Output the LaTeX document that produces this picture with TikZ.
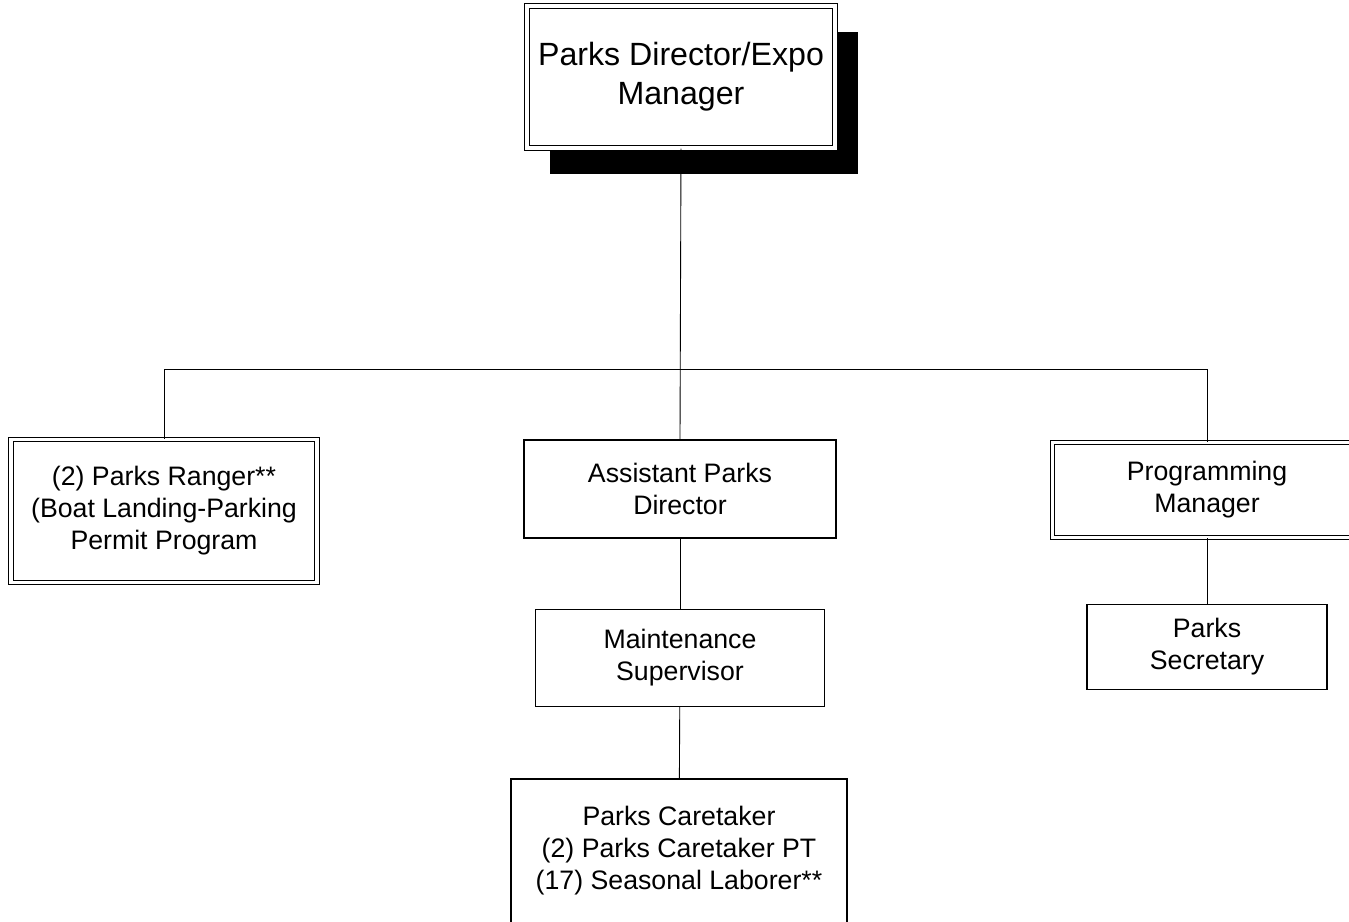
\documentclass[tikz,border=0pt]{standalone}
\usepackage{fontspec}
\setmainfont{Liberation Sans}
\usetikzlibrary{shadows}

\tikzset{
	post/.style={draw, line width=0.8pt, align=center, inner sep=0pt,
		font=\fontsize{15.2}{18.2}\selectfont},
	keypost/.style={post, double, line width=0.7pt, double distance=1.8pt},
	chief/.style={keypost, font=\fontsize{18.3}{22.2}\selectfont, fill=white,
		drop shadow={shadow xshift=0.46cm, shadow yshift=-0.52cm, fill=black, opacity=1}},
	link/.style={line width=0.5pt}
}

\begin{document}
\begin{tikzpicture}[x=0.02cm, y=-0.02cm]
	\useasboundingbox (0,0) rectangle (1349,921);

	\node[chief, minimum width=6.16cm, minimum height=2.84cm] (director) at (681,77) {Parks Director/Expo\\Manager};

	\node[keypost, minimum width=6.12cm, minimum height=2.86cm] (ranger) at (164,511) {(2) Parks Ranger**\\(Boat Landing-Parking\\Permit Program};
	\node[post, minimum width=6.24cm, minimum height=1.96cm] (assistant) at (680,489) {Assistant Parks\\Director};
	\node[keypost, minimum width=6.18cm, minimum height=1.9cm] (programming) at (1207,490) {Programming\\Manager};

	\node[post, minimum width=5.78cm, minimum height=1.94cm] (maintenance) at (680,658) {Maintenance\\Supervisor};
	\node[post, minimum width=4.8cm, minimum height=1.7cm] (secretary) at (1207,647) {Parks\\Secretary};
	\node[post, minimum width=6.72cm, minimum height=2.88cm] (caretaker) at (679,851) {Parks Caretaker\\(2) Parks Caretaker PT\\(17) Seasonal Laborer**};

	\coordinate (bar) at (680,369);

	\draw[link] (director.south) -- (assistant.north);
	\draw[link] (ranger.north) |- (bar) -| (programming.north);
	\draw[link] (assistant) -- (maintenance);
	\draw[link] (maintenance) -- (caretaker);
	\draw[link] (programming) -- (secretary);
\end{tikzpicture}
\end{document}
